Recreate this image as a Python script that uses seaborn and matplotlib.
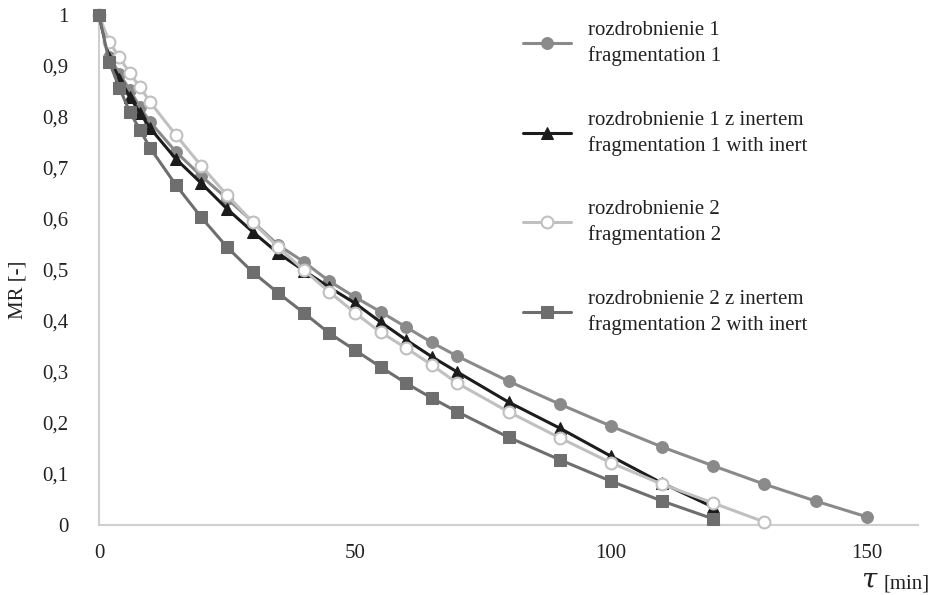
import matplotlib
matplotlib.use("Agg")
import matplotlib.pyplot as plt
import seaborn as sns
import pandas as pd
from matplotlib.ticker import FuncFormatter

sns.set_theme(style="white")
plt.rcParams['font.family'] = ['Liberation Serif', 'DejaVu Serif']
plt.rcParams['mathtext.fontset'] = 'dejavuserif'

# time points [min]
t_f1 = [0, 2, 4, 6, 8, 10, 15, 20, 25, 30, 35, 40, 45, 50, 55, 60, 65, 70,
        80, 90, 100, 110, 120, 130, 140, 150]
mr_f1 = [1.0, 0.918, 0.885, 0.853, 0.82, 0.79, 0.732, 0.684, 0.64, 0.595,
         0.549, 0.516, 0.478, 0.447, 0.418, 0.388, 0.358, 0.331,
         0.282, 0.237, 0.194, 0.153, 0.116, 0.080, 0.047, 0.016]

t_f1i = [0, 2, 4, 6, 8, 10, 15, 20, 25, 30, 35, 40, 45, 50, 55, 60, 65, 70,
         80, 90, 100, 110, 120]
mr_f1i = [1.0, 0.915, 0.875, 0.84, 0.808, 0.778, 0.718, 0.67, 0.62, 0.575,
          0.533, 0.499, 0.466, 0.435, 0.398, 0.363, 0.33, 0.30,
          0.241, 0.19, 0.135, 0.082, 0.035]

t_f2 = [0, 2, 4, 6, 8, 10, 15, 20, 25, 30, 35, 40, 45, 50, 55, 60, 65, 70,
        80, 90, 100, 110, 120, 130]
mr_f2 = [1.0, 0.947, 0.917, 0.886, 0.859, 0.829, 0.765, 0.704, 0.647, 0.594,
         0.545, 0.50, 0.457, 0.416, 0.378, 0.347, 0.314, 0.278,
         0.222, 0.171, 0.122, 0.080, 0.043, 0.006]

t_f2i = [0, 2, 4, 6, 8, 10, 15, 20, 25, 30, 35, 40, 45, 50, 55, 60, 65, 70,
         80, 90, 100, 110, 120]
mr_f2i = [1.0, 0.908, 0.857, 0.81, 0.775, 0.739, 0.667, 0.603, 0.545, 0.496,
          0.455, 0.416, 0.376, 0.343, 0.31, 0.278, 0.249, 0.222,
          0.172, 0.128, 0.086, 0.047, 0.012]

labels = ["rozdrobnienie 1\nfragmentation 1",
          "rozdrobnienie 1 z inertem\nfragmentation 1 with inert",
          "rozdrobnienie 2\nfragmentation 2",
          "rozdrobnienie 2 z inertem\nfragmentation 2 with inert"]

x_ticks = [0, 50, 100, 150]
y_ticks = [0, 0.1, 0.2, 0.3, 0.4, 0.5, 0.6, 0.7, 0.8, 0.9, 1.0]

FS = 15

fig = plt.figure(figsize=(9.3, 5.95), dpi=100)
ax = fig.add_axes([99/930, 1 - 525/595, (918-99)/930, (525-15)/595])

styles = [
    dict(color="#8a8a8a", marker="o", markersize=8.5, markerfacecolor="#8a8a8a",
         markeredgecolor="#8a8a8a"),
    dict(color="#1c1c1c", marker="^", markersize=9, markerfacecolor="#1c1c1c",
         markeredgecolor="#1c1c1c"),
    dict(color="#c0c0c0", marker="o", markersize=8.5, markerfacecolor="white",
         markeredgecolor="#c0c0c0", markeredgewidth=1.5),
    dict(color="#6e6e6e", marker="s", markersize=8, markerfacecolor="#6e6e6e",
         markeredgecolor="#6e6e6e"),
]
series = [(t_f1, mr_f1), (t_f1i, mr_f1i), (t_f2, mr_f2), (t_f2i, mr_f2i)]

for (t, mr), lab, st in zip(series, labels, styles):
    df = pd.DataFrame({"t": t, "mr": mr})
    sns.lineplot(data=df, x="t", y="mr", ax=ax, label=lab, linewidth=2.2,
                 clip_on=False, zorder=3, **st)

ax.set_xlim(0, 160)
ax.set_ylim(0, 1)
ax.set_xticks(x_ticks)
ax.set_yticks(y_ticks)
fmt = FuncFormatter(lambda v, p: ("%g" % round(v, 2)).replace(".", ","))
ax.yaxis.set_major_formatter(fmt)
ax.xaxis.set_major_formatter(FuncFormatter(lambda v, p: "%d" % v))
ax.tick_params(axis="both", labelsize=FS, colors="#222222", length=0)
ax.tick_params(axis="x", pad=14)
ax.tick_params(axis="y", pad=22)
for s in ["top", "right"]:
    ax.spines[s].set_visible(False)
for s in ["left", "bottom"]:
    ax.spines[s].set_color("#cfcfcf")
    ax.spines[s].set_linewidth(1.5)
ax.grid(False)

ax.set_xlabel("")
ax.set_ylabel("")
fig.text(18/930, 1 - 290/595, "MR [-]", fontsize=FS, rotation=90,
         ha="center", va="center", color="#222222")
fig.text(879/930, 1 - 588/595, r"$\tau$", fontsize=20, ha="right",
         va="baseline", color="#222222")
fig.text(883/930, 1 - 588/595, "[min]", fontsize=FS, ha="left",
         va="baseline", color="#222222")

leg = ax.legend(loc="upper left", bbox_to_anchor=(523/930, 1 - 21/595),
                bbox_transform=fig.transFigure, frameon=False, fontsize=FS,
                handlelength=2.3, handletextpad=0.8, labelspacing=2.15,
                borderpad=0, borderaxespad=0, labelcolor="#222222")
for txt in leg.get_texts():
    txt.set_linespacing(1.4)

fig.savefig("out.png", dpi=100)
